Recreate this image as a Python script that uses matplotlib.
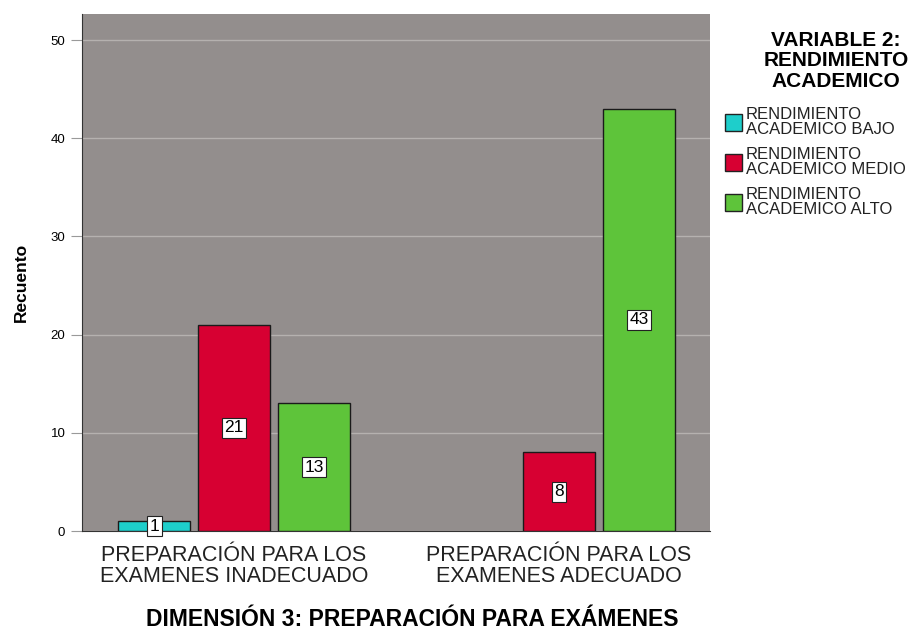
import matplotlib.pyplot as plt
import numpy as np
from matplotlib.patches import Rectangle

# data
categories = ["PREPARACIÓN PARA LOS\nEXAMENES INADECUADO", "PREPARACIÓN PARA LOS\nEXAMENES ADECUADO"]
series_names = ["RENDIMIENTO\nACADEMICO BAJO", "RENDIMIENTO\nACADEMICO MEDIO", "RENDIMIENTO\nACADEMICO ALTO"]
bajo = [1, 0]
medio = [21, 8]
alto = [13, 43]
colors = ["#1ECECB", "#D70032", "#5EC43A"]

plt.rcParams["font.family"] = ["Liberation Sans", "DejaVu Sans"]

fig = plt.figure(figsize=(9.12, 6.32), dpi=100)
ax = fig.add_axes([82 / 912, 1 - 531 / 632, 628 / 912, 517 / 632])
ax.set_facecolor("#938E8D")

x = np.arange(len(categories))
width = 0.2215
offset = 0.246
for i, (vals, col) in enumerate(zip([bajo, medio, alto], colors)):
    xs = x + (i - 1) * offset
    for xi, v in zip(xs, vals):
        if v == 0:
            continue
        ax.bar(xi, v, width=width, color=col, edgecolor="#1a1a1a", linewidth=1.0, zorder=3)
        ax.text(xi, v / 2, str(v), ha="center", va="center", fontsize=12.5, zorder=4,
                bbox=dict(boxstyle="square,pad=0.15", facecolor="white", edgecolor="#222222", linewidth=0.8))

ax.set_xlim(-0.468, 1.465)
ax.set_ylim(0, 52.65)
ax.set_yticks([0, 10, 20, 30, 40, 50])
ax.yaxis.grid(True, color="#B5B1AF", linewidth=1.0, zorder=1)
ax.set_axisbelow(True)
ax.tick_params(axis="y", length=8, color="#9a9a9a", labelsize=9.5, pad=4)
ax.set_xticks(x)
ax.set_xticklabels(categories, fontsize=15.5, color="#222222", linespacing=1.0)
ax.tick_params(axis="x", length=0, pad=10)
for s in ["top", "right"]:
    ax.spines[s].set_visible(False)
ax.spines["left"].set_color("#333333")
ax.spines["bottom"].set_color("#333333")

ax.set_ylabel("Recuento", fontsize=12.5, fontweight="bold")
ax.yaxis.set_label_coords(-0.084, 0.48)
ax.set_xlabel("DIMENSIÓN 3: PREPARACIÓN PARA EXÁMENES", fontsize=16.5, fontweight="bold")
ax.xaxis.set_label_coords((412 - 82) / 628, -(620 - 531) / 517)
ax.xaxis.label.set_va("center")

# legend
fig.text(836 / 912, 1 - 61 / 632, "VARIABLE 2:\nRENDIMIENTO\nACADEMICO", ha="center", va="center",
         fontsize=15, fontweight="bold", linespacing=1.12)
for i, (name, col) in enumerate(zip(series_names, colors)):
    yc = 122 + i * 40
    fig.add_artist(Rectangle((725 / 912, 1 - (yc + 9) / 632), 17 / 912, 17 / 632,
                             transform=fig.transFigure, facecolor=col, edgecolor="#222222", linewidth=1.0))
    fig.text(746 / 912, 1 - yc / 632, name, ha="left", va="center", fontsize=12,
             color="#222222", linespacing=1.0)

fig.savefig("out.png", dpi=100)
